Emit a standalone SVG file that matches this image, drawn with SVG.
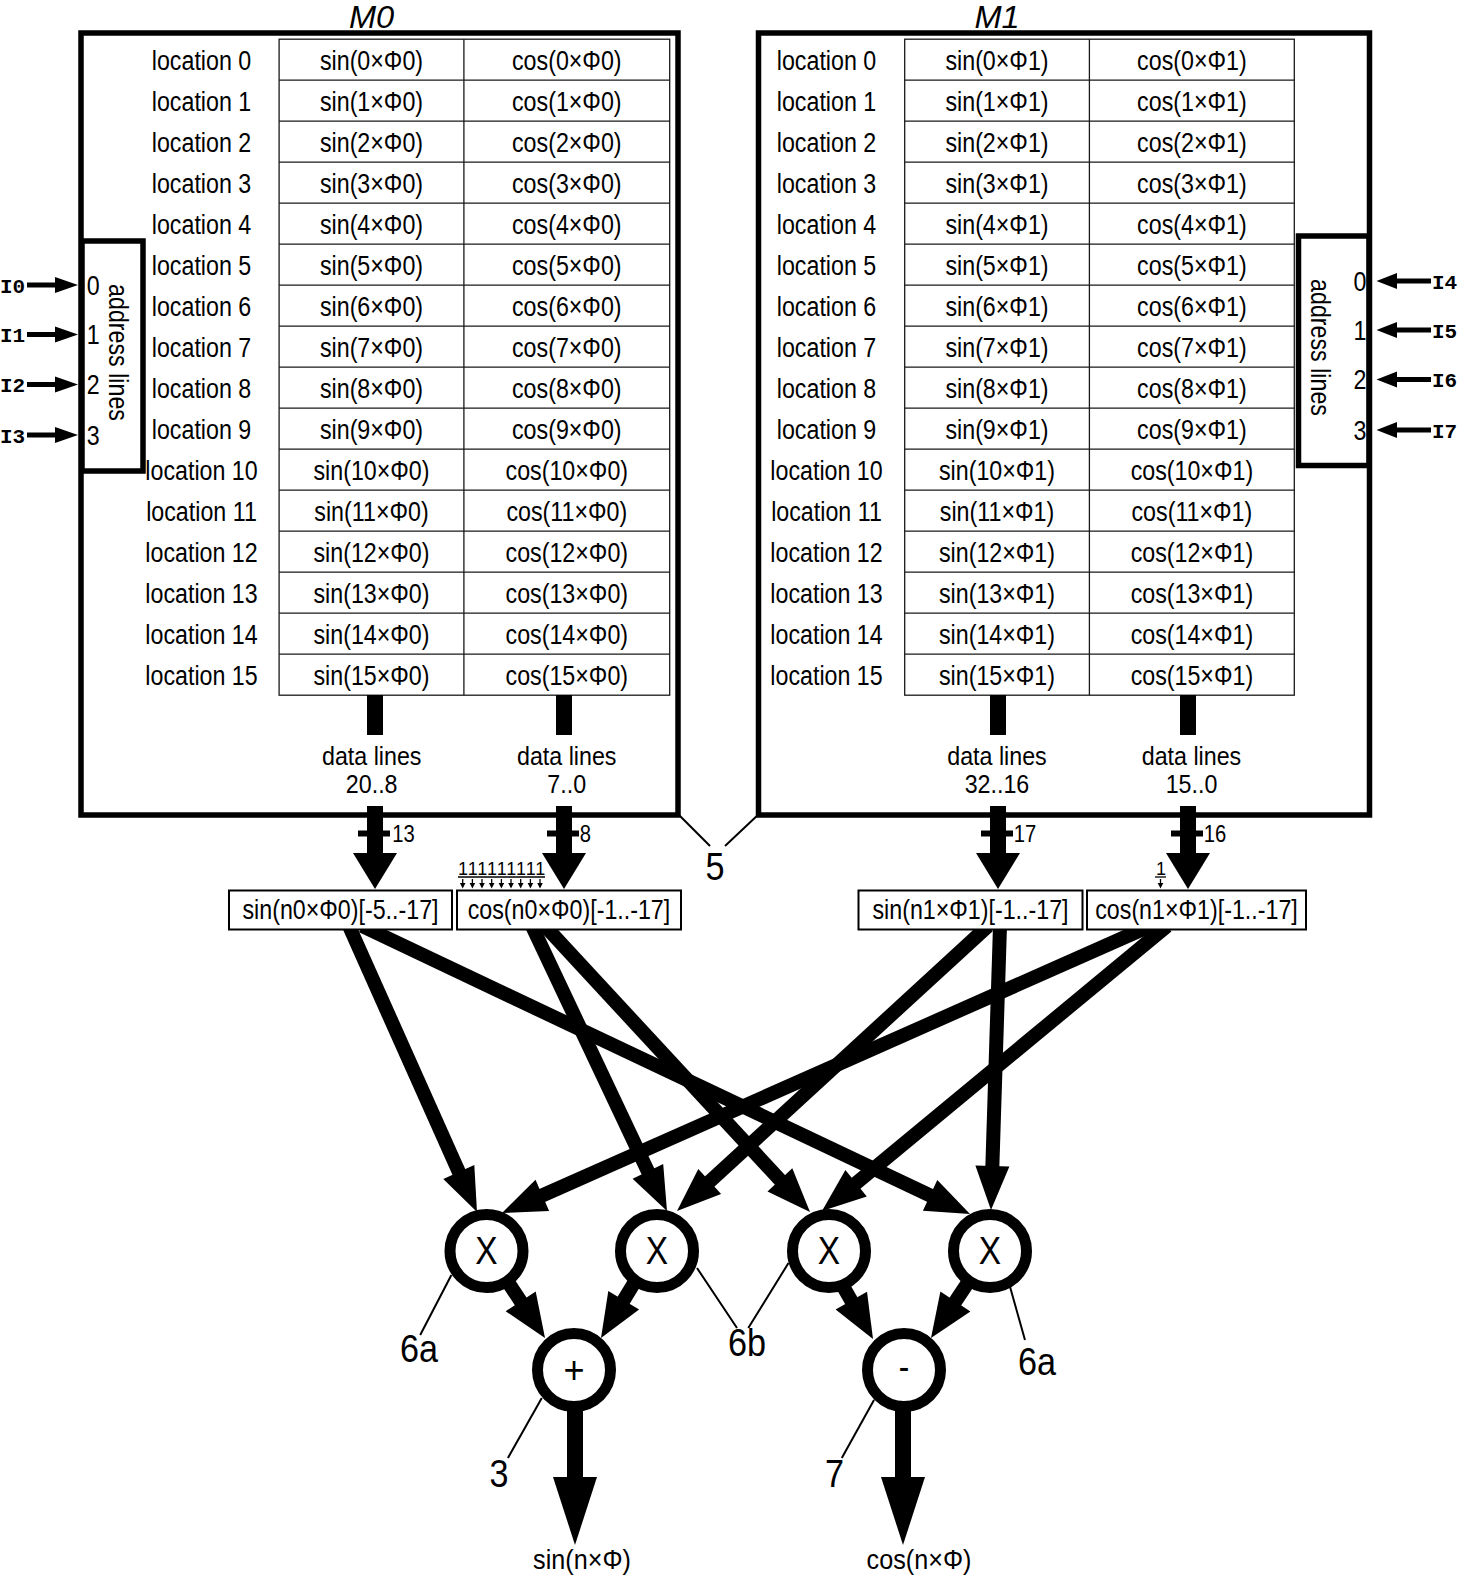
<svg xmlns="http://www.w3.org/2000/svg" width="1459" height="1575" viewBox="0 0 1459 1575">
<style>
.b{fill:none;stroke:#000;stroke-width:5.5}
.g{fill:none;stroke:#1a1a1a;stroke-width:1.3}
.t{font-family:"Liberation Sans",Arial,sans-serif;font-size:28px;text-anchor:middle;fill:#000;transform-box:fill-box;transform-origin:center;transform:scaleX(.83)}
.dl{font-size:25px;transform:scaleX(.93)}
.s{font-size:23px;transform:scaleX(.88)}
.L{font-size:38px;transform:scaleX(.9)}
.o{font-size:28px;transform:scaleX(.9)}
.x{font-size:38px;transform:scaleX(.88)}
.ti{font-size:31px;font-style:italic;transform:scaleX(1.05)}
.m{font-family:"Liberation Mono","Courier New",monospace;font-weight:bold;font-size:21px;fill:#000}
.r{font-family:"Liberation Sans",Arial,sans-serif;font-size:28px;text-anchor:middle;fill:#000}
.one{font-family:"Liberation Sans",Arial,sans-serif;font-size:18px;fill:#000}
.bar{stroke:#000;stroke-width:16}
.ln{stroke:#000;stroke-width:14}
.in{stroke:#000;stroke-width:5}
.tk{stroke:#000;stroke-width:6}
.ld{stroke:#000;stroke-width:2;fill:none}
.c{fill:#fff;stroke:#000;stroke-width:11}
.sb{fill:#fff;stroke:#000;stroke-width:2}
.u{stroke:#000;stroke-width:1.3}
</style>

<g id="M0">
<text class="t ti" x="371.6" y="28.3">M0</text>
<rect class="b" x="81" y="33" width="597" height="782"/>
<rect class="g" x="279.1" y="39.2" width="390.6" height="656"/>
<path class="g" d="M463.9 39.2V695.2M279.1 80.2H669.7M279.1 121.2H669.7M279.1 162.2H669.7M279.1 203.2H669.7M279.1 244.2H669.7M279.1 285.2H669.7M279.1 326.2H669.7M279.1 367.2H669.7M279.1 408.2H669.7M279.1 449.2H669.7M279.1 490.2H669.7M279.1 531.2H669.7M279.1 572.2H669.7M279.1 613.2H669.7M279.1 654.2H669.7"/>
<text class="t" x="201.5" y="70">location 0</text><text class="t" x="371.5" y="70">sin(0×Φ0)</text><text class="t" x="566.8" y="70">cos(0×Φ0)</text>
<text class="t" x="201.5" y="111">location 1</text><text class="t" x="371.5" y="111">sin(1×Φ0)</text><text class="t" x="566.8" y="111">cos(1×Φ0)</text>
<text class="t" x="201.5" y="152">location 2</text><text class="t" x="371.5" y="152">sin(2×Φ0)</text><text class="t" x="566.8" y="152">cos(2×Φ0)</text>
<text class="t" x="201.5" y="193">location 3</text><text class="t" x="371.5" y="193">sin(3×Φ0)</text><text class="t" x="566.8" y="193">cos(3×Φ0)</text>
<text class="t" x="201.5" y="234">location 4</text><text class="t" x="371.5" y="234">sin(4×Φ0)</text><text class="t" x="566.8" y="234">cos(4×Φ0)</text>
<text class="t" x="201.5" y="275">location 5</text><text class="t" x="371.5" y="275">sin(5×Φ0)</text><text class="t" x="566.8" y="275">cos(5×Φ0)</text>
<text class="t" x="201.5" y="316">location 6</text><text class="t" x="371.5" y="316">sin(6×Φ0)</text><text class="t" x="566.8" y="316">cos(6×Φ0)</text>
<text class="t" x="201.5" y="357">location 7</text><text class="t" x="371.5" y="357">sin(7×Φ0)</text><text class="t" x="566.8" y="357">cos(7×Φ0)</text>
<text class="t" x="201.5" y="398">location 8</text><text class="t" x="371.5" y="398">sin(8×Φ0)</text><text class="t" x="566.8" y="398">cos(8×Φ0)</text>
<text class="t" x="201.5" y="439">location 9</text><text class="t" x="371.5" y="439">sin(9×Φ0)</text><text class="t" x="566.8" y="439">cos(9×Φ0)</text>
<text class="t" x="201.5" y="480">location 10</text><text class="t" x="371.5" y="480">sin(10×Φ0)</text><text class="t" x="566.8" y="480">cos(10×Φ0)</text>
<text class="t" x="201.5" y="521">location 11</text><text class="t" x="371.5" y="521">sin(11×Φ0)</text><text class="t" x="566.8" y="521">cos(11×Φ0)</text>
<text class="t" x="201.5" y="562">location 12</text><text class="t" x="371.5" y="562">sin(12×Φ0)</text><text class="t" x="566.8" y="562">cos(12×Φ0)</text>
<text class="t" x="201.5" y="603">location 13</text><text class="t" x="371.5" y="603">sin(13×Φ0)</text><text class="t" x="566.8" y="603">cos(13×Φ0)</text>
<text class="t" x="201.5" y="644">location 14</text><text class="t" x="371.5" y="644">sin(14×Φ0)</text><text class="t" x="566.8" y="644">cos(14×Φ0)</text>
<text class="t" x="201.5" y="685">location 15</text><text class="t" x="371.5" y="685">sin(15×Φ0)</text><text class="t" x="566.8" y="685">cos(15×Φ0)</text>
<rect class="b" x="82" y="241" width="61" height="230"/>
<text class="t" x="93.3" y="295">0</text>
<text class="t" x="93.3" y="344.5">1</text>
<text class="t" x="93.3" y="394.5">2</text>
<text class="t" x="93.3" y="445">3</text>
<text class="r" transform="translate(109 352.5) rotate(90) scale(.83 1)">address lines</text>
<text class="t dl" x="371.7" y="765.5">data lines</text>
<text class="t dl" x="371.7" y="793.5">20..8</text>
<text class="t dl" x="566.7" y="765.5">data lines</text>
<text class="t dl" x="566.7" y="793.5">7..0</text>
</g>

<g id="M1">
<text class="t ti" x="997" y="28.3">M1</text>
<rect class="b" x="758.5" y="33" width="611" height="782"/>
<rect class="g" x="904.7" y="39.2" width="389.6" height="656"/>
<path class="g" d="M1089.4 39.2V695.2M904.7 80.2H1294.3M904.7 121.2H1294.3M904.7 162.2H1294.3M904.7 203.2H1294.3M904.7 244.2H1294.3M904.7 285.2H1294.3M904.7 326.2H1294.3M904.7 367.2H1294.3M904.7 408.2H1294.3M904.7 449.2H1294.3M904.7 490.2H1294.3M904.7 531.2H1294.3M904.7 572.2H1294.3M904.7 613.2H1294.3M904.7 654.2H1294.3"/>
<text class="t" x="826.5" y="70">location 0</text><text class="t" x="997" y="70">sin(0×Φ1)</text><text class="t" x="1191.9" y="70">cos(0×Φ1)</text>
<text class="t" x="826.5" y="111">location 1</text><text class="t" x="997" y="111">sin(1×Φ1)</text><text class="t" x="1191.9" y="111">cos(1×Φ1)</text>
<text class="t" x="826.5" y="152">location 2</text><text class="t" x="997" y="152">sin(2×Φ1)</text><text class="t" x="1191.9" y="152">cos(2×Φ1)</text>
<text class="t" x="826.5" y="193">location 3</text><text class="t" x="997" y="193">sin(3×Φ1)</text><text class="t" x="1191.9" y="193">cos(3×Φ1)</text>
<text class="t" x="826.5" y="234">location 4</text><text class="t" x="997" y="234">sin(4×Φ1)</text><text class="t" x="1191.9" y="234">cos(4×Φ1)</text>
<text class="t" x="826.5" y="275">location 5</text><text class="t" x="997" y="275">sin(5×Φ1)</text><text class="t" x="1191.9" y="275">cos(5×Φ1)</text>
<text class="t" x="826.5" y="316">location 6</text><text class="t" x="997" y="316">sin(6×Φ1)</text><text class="t" x="1191.9" y="316">cos(6×Φ1)</text>
<text class="t" x="826.5" y="357">location 7</text><text class="t" x="997" y="357">sin(7×Φ1)</text><text class="t" x="1191.9" y="357">cos(7×Φ1)</text>
<text class="t" x="826.5" y="398">location 8</text><text class="t" x="997" y="398">sin(8×Φ1)</text><text class="t" x="1191.9" y="398">cos(8×Φ1)</text>
<text class="t" x="826.5" y="439">location 9</text><text class="t" x="997" y="439">sin(9×Φ1)</text><text class="t" x="1191.9" y="439">cos(9×Φ1)</text>
<text class="t" x="826.5" y="480">location 10</text><text class="t" x="997" y="480">sin(10×Φ1)</text><text class="t" x="1191.9" y="480">cos(10×Φ1)</text>
<text class="t" x="826.5" y="521">location 11</text><text class="t" x="997" y="521">sin(11×Φ1)</text><text class="t" x="1191.9" y="521">cos(11×Φ1)</text>
<text class="t" x="826.5" y="562">location 12</text><text class="t" x="997" y="562">sin(12×Φ1)</text><text class="t" x="1191.9" y="562">cos(12×Φ1)</text>
<text class="t" x="826.5" y="603">location 13</text><text class="t" x="997" y="603">sin(13×Φ1)</text><text class="t" x="1191.9" y="603">cos(13×Φ1)</text>
<text class="t" x="826.5" y="644">location 14</text><text class="t" x="997" y="644">sin(14×Φ1)</text><text class="t" x="1191.9" y="644">cos(14×Φ1)</text>
<text class="t" x="826.5" y="685">location 15</text><text class="t" x="997" y="685">sin(15×Φ1)</text><text class="t" x="1191.9" y="685">cos(15×Φ1)</text>
<rect class="b" x="1298.5" y="236" width="70.5" height="229.5"/>
<text class="t" x="1360" y="291">0</text>
<text class="t" x="1360" y="340">1</text>
<text class="t" x="1360" y="389.5">2</text>
<text class="t" x="1360" y="440">3</text>
<text class="r" transform="translate(1311 347.5) rotate(90) scale(.83 1)">address lines</text>
<text class="t dl" x="997" y="765.5">data lines</text>
<text class="t dl" x="997" y="793.5">32..16</text>
<text class="t dl" x="1191.5" y="765.5">data lines</text>
<text class="t dl" x="1191.5" y="793.5">15..0</text>
</g>

<g id="connectors">
<g id="inputs-left">
<line class="in" x1="27" y1="285" x2="57" y2="285"/><polygon points="55,277 55,293 78,285"/>
<line class="in" x1="27" y1="334.5" x2="57" y2="334.5"/><polygon points="55,326.5 55,342.5 78,334.5"/>
<line class="in" x1="27" y1="384.5" x2="57" y2="384.5"/><polygon points="55,376.5 55,392.5 78,384.5"/>
<line class="in" x1="27" y1="435" x2="57" y2="435"/><polygon points="55,427 55,443 78,435"/>
<text class="m" x="0" y="292.5">I0</text>
<text class="m" x="0" y="342">I1</text>
<text class="m" x="0" y="392">I2</text>
<text class="m" x="0" y="442.5">I3</text>
</g>
<g id="inputs-right">
<line class="in" x1="1394" y1="281" x2="1431" y2="281"/><polygon points="1397,273 1397,289 1376.5,281"/>
<line class="in" x1="1394" y1="330" x2="1431" y2="330"/><polygon points="1397,322 1397,338 1376.5,330"/>
<line class="in" x1="1394" y1="379.5" x2="1431" y2="379.5"/><polygon points="1397,371.5 1397,387.5 1376.5,379.5"/>
<line class="in" x1="1394" y1="430" x2="1431" y2="430"/><polygon points="1397,422 1397,438 1376.5,430"/>
<text class="m" x="1432" y="288.5">I4</text>
<text class="m" x="1432" y="337.5">I5</text>
<text class="m" x="1432" y="387">I6</text>
<text class="m" x="1432" y="437.5">I7</text>
</g>
<g id="buses">
<line class="bar" x1="375" y1="695" x2="375" y2="735"/>
<line class="bar" x1="375" y1="806" x2="375" y2="856"/><polygon points="353,853 397,853 375,889"/>
<line class="tk" x1="358" y1="833.5" x2="390" y2="833.5"/>
<text class="t s" x="403.5" y="842">13</text>
<line class="bar" x1="564" y1="695" x2="564" y2="735"/>
<line class="bar" x1="564" y1="806" x2="564" y2="856"/><polygon points="542,853 586,853 564,889"/>
<line class="tk" x1="547" y1="833.5" x2="579" y2="833.5"/>
<text class="t s" x="585.5" y="842">8</text>
<line class="bar" x1="998" y1="695" x2="998" y2="735"/>
<line class="bar" x1="998" y1="806" x2="998" y2="856"/><polygon points="976,853 1020,853 998,889"/>
<line class="tk" x1="981" y1="833.5" x2="1013" y2="833.5"/>
<text class="t s" x="1025" y="842">17</text>
<line class="bar" x1="1188" y1="695" x2="1188" y2="735"/>
<line class="bar" x1="1188" y1="806" x2="1188" y2="856"/><polygon points="1166,853 1210,853 1188,889"/>
<line class="tk" x1="1171" y1="833.5" x2="1203" y2="833.5"/>
<text class="t s" x="1215" y="842">16</text>
</g>
<g id="ones">
<text class="one" x="458 467.7 477.3 487 496.7 506.3 516 525.7 535.3" y="875">111111111</text>
<line class="u" x1="458" y1="877" x2="545" y2="877"/>
<path class="u" d="M462.7 879V885M472.4 879V885M482 879V885M491.7 879V885M501.4 879V885M511 879V885M520.7 879V885M530.4 879V885M540 879V885"/>
<path d="M459.9 883h5.6l-2.8 5.5zM469.6 883h5.6l-2.8 5.5zM479.2 883h5.6l-2.8 5.5zM488.9 883h5.6l-2.8 5.5zM498.6 883h5.6l-2.8 5.5zM508.2 883h5.6l-2.8 5.5zM517.9 883h5.6l-2.8 5.5zM527.6 883h5.6l-2.8 5.5zM537.2 883h5.6l-2.8 5.5z"/>
<text class="one" x="1156" y="875">1</text>
<line class="u" x1="1155" y1="877" x2="1166" y2="877"/>
<path class="u" d="M1160.5 879V885"/>
<path d="M1157.7 883h5.6l-2.8 5.5z"/>
</g>
<g id="cross">
<line class="ln" x1="349" y1="926" x2="459.6" y2="1173.7"/><polygon points="443.3,1178.9 474.3,1164.9 477,1212"/>
<line class="ln" x1="362" y1="926" x2="931" y2="1195.8"/><polygon points="922.9,1210.8 937.3,1180 970,1214"/>
<line class="ln" x1="532" y1="926" x2="648.7" y2="1173"/><polygon points="632.6,1178.7 663.2,1163.9 667,1211"/>
<line class="ln" x1="545" y1="926" x2="781" y2="1181"/><polygon points="767.5,1191.5 792.3,1168.3 810,1212"/>
<line class="ln" x1="988" y1="926" x2="708.5" y2="1182.6"/><polygon points="698.3,1168.9 721.1,1194.1 677,1211"/>
<line class="ln" x1="1000" y1="926" x2="992.3" y2="1168"/><polygon points="975.4,1165.5 1009.4,1166.6 991,1210"/>
<line class="ln" x1="1150" y1="926" x2="541" y2="1196"/><polygon points="535.5,1179.8 549.1,1211 502,1213"/>
<line class="ln" x1="1167" y1="926" x2="855" y2="1184.1"/><polygon points="845.4,1170 866.8,1196.4 822,1211"/>
</g>
<g id="sums">
<line class="ln" x1="500" y1="1270" x2="521.5" y2="1302.6"/><polygon points="505.7,1311.2 535.7,1291.4 545,1338"/>
<line class="ln" x1="642" y1="1270" x2="622.8" y2="1301.6"/><polygon points="608.3,1291 639.1,1309.6 601,1338"/>
<line class="ln" x1="835" y1="1272" x2="852" y2="1302"/><polygon points="835.6,1309.6 867,1291.8 873,1339"/>
<line class="ln" x1="975" y1="1272" x2="954.6" y2="1302.6"/><polygon points="940.4,1291.4 970.4,1311.4 931,1338"/>
</g>
<g id="outputs">
<line class="bar" x1="575" y1="1380" x2="575" y2="1480"/><polygon points="553,1477 597,1477 575,1545"/>
<line class="bar" x1="903" y1="1380" x2="903" y2="1480"/><polygon points="881,1477 925,1477 903,1545"/>
</g>
<g id="leaders">
<path class="ld" d="M677 813L710 846M760 813L725 846"/>
<path class="ld" d="M451.4 1275L420.2 1335"/>
<path class="ld" d="M697 1268L737 1328M788.5 1263L748.3 1328"/>
<path class="ld" d="M1009.5 1285L1025 1340"/>
<path class="ld" d="M541.8 1398L507.9 1458"/>
<path class="ld" d="M874 1400L841.8 1458"/>
</g>
</g>

<g id="sin0">
<rect class="sb" x="229" y="890.5" width="223" height="39"/>
<text class="t" x="340.5" y="919">sin(n0×Φ0)[-5..-17]</text>
</g>
<g id="cos0">
<rect class="sb" x="457" y="890.5" width="224" height="39"/>
<text class="t" x="569" y="919">cos(n0×Φ0)[-1..-17]</text>
</g>
<g id="sin1">
<rect class="sb" x="858.5" y="890.5" width="224" height="39"/>
<text class="t" x="970.5" y="919">sin(n1×Φ1)[-1..-17]</text>
</g>
<g id="cos1">
<rect class="sb" x="1087" y="890.5" width="219" height="39"/>
<text class="t" x="1196.5" y="919">cos(n1×Φ1)[-1..-17]</text>
</g>

<g id="mul1"><circle class="c" cx="486.5" cy="1251" r="36.5"/><text class="t x" x="486.5" y="1264.5">X</text></g>
<g id="mul2"><circle class="c" cx="657" cy="1251" r="36.5"/><text class="t x" x="657" y="1264.5">X</text></g>
<g id="mul3"><circle class="c" cx="829" cy="1251" r="36.5"/><text class="t x" x="829" y="1264.5">X</text></g>
<g id="mul4"><circle class="c" cx="990" cy="1251" r="36.5"/><text class="t x" x="990" y="1264.5">X</text></g>
<g id="add"><circle class="c" cx="574" cy="1370" r="36.5"/><text class="t" x="574" y="1383" style="font-size:38px;transform:scaleX(.95)">+</text></g>
<g id="sub"><circle class="c" cx="904" cy="1370" r="36.5"/><text class="t" x="904" y="1380" style="font-size:38px">-</text></g>

<g id="labels">
<text class="t L" x="715" y="880">5</text>
<text class="t L" x="419" y="1362">6a</text>
<text class="t L" x="747" y="1356">6b</text>
<text class="t L" x="1037" y="1375">6a</text>
<text class="t L" x="499" y="1487">3</text>
<text class="t L" x="834.6" y="1487">7</text>
<text class="t o" x="582" y="1569">sin(n×Φ)</text>
<text class="t o" x="919" y="1569">cos(n×Φ)</text>
</g>
</svg>
